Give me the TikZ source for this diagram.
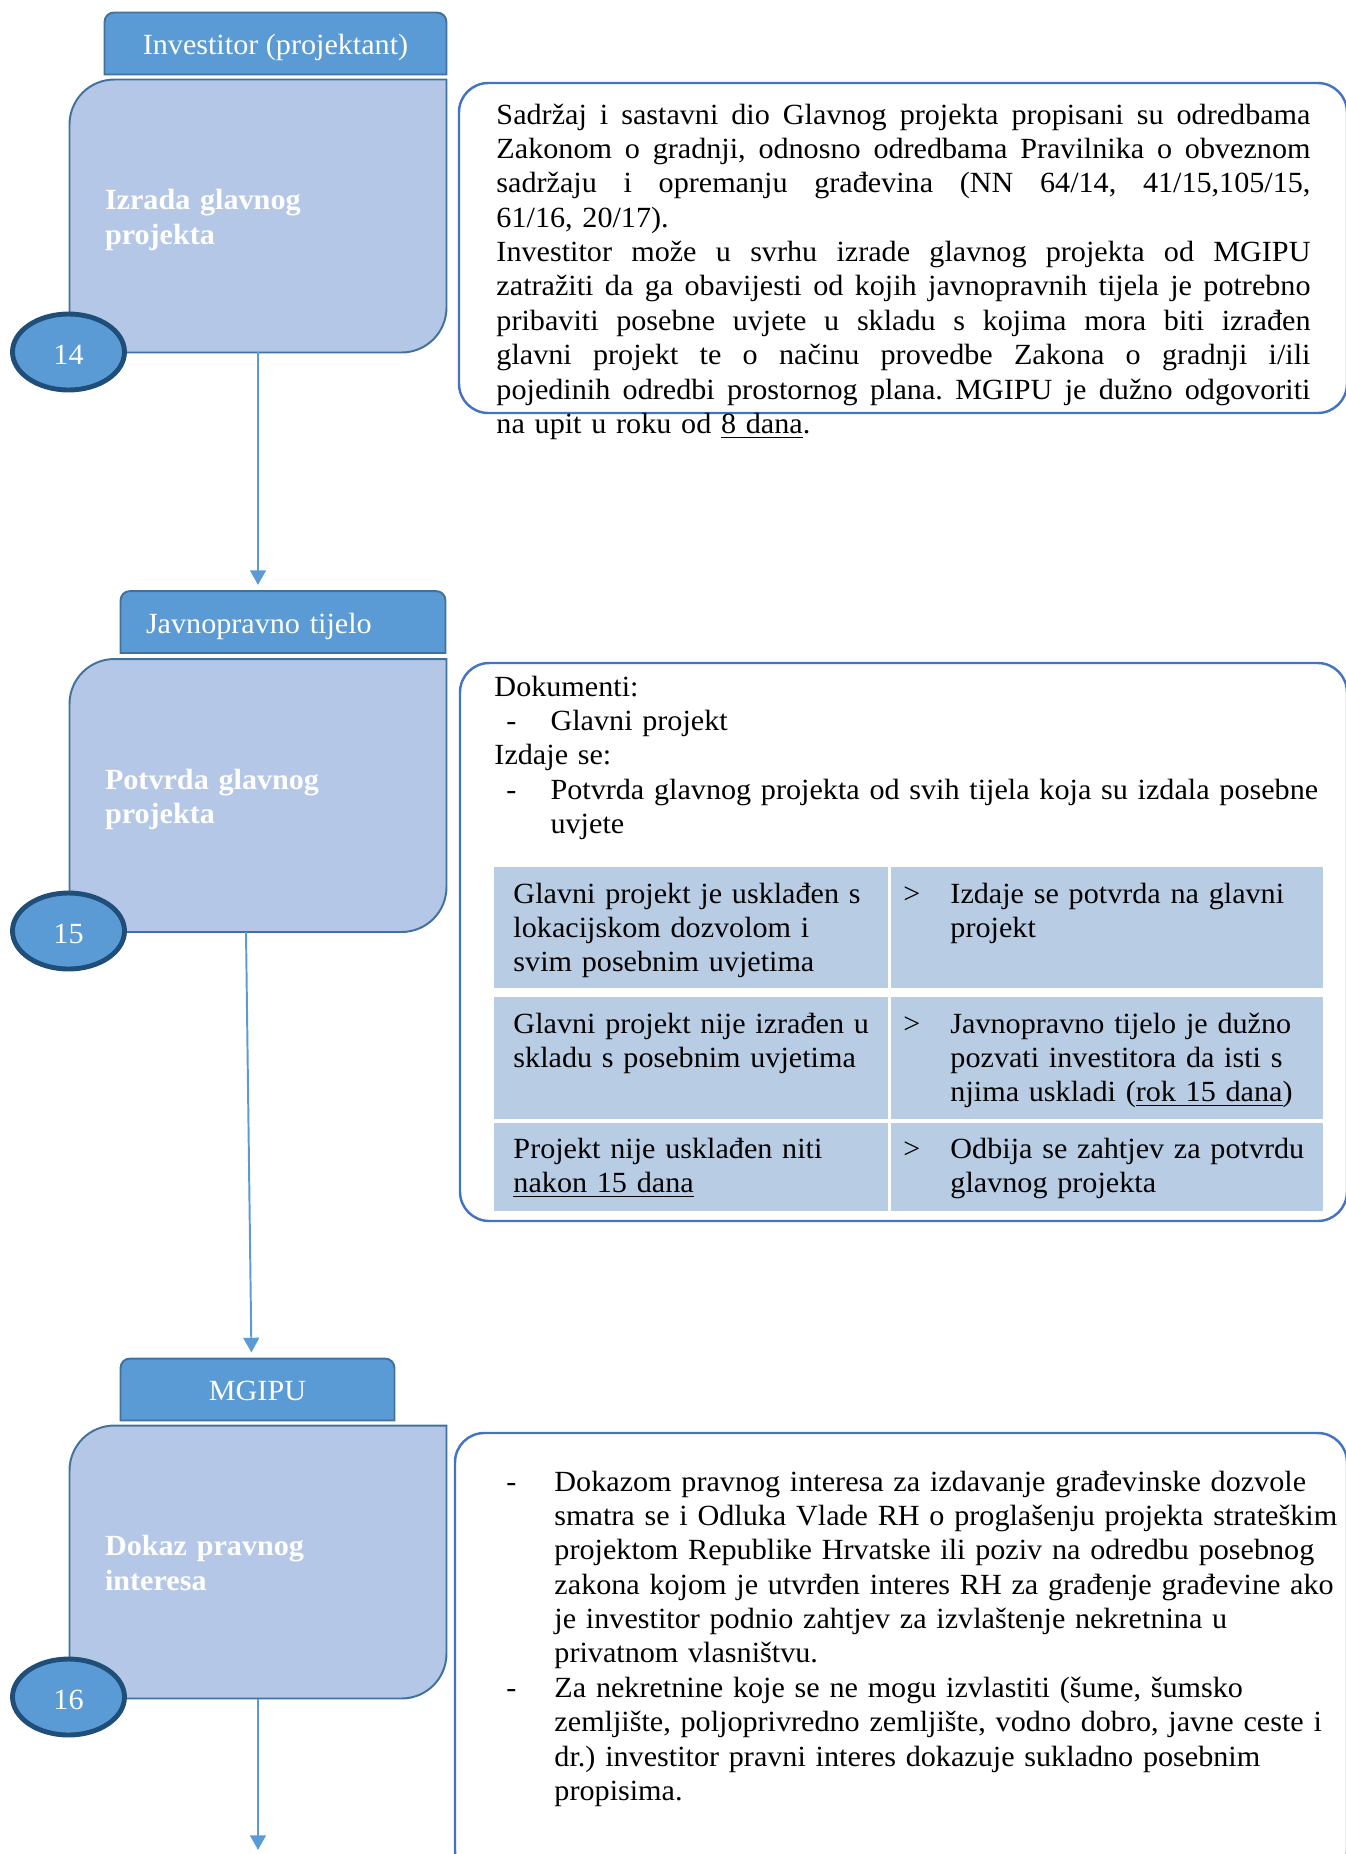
\documentclass[tikz,border=0pt]{standalone}
\usepackage{fontspec}
\setmainfont{Liberation Serif}[FakeStretch=1.03]
\usepackage{tikz}
\usetikzlibrary{calc}
\usetikzlibrary{shapes.geometric}
\usetikzlibrary{arrows.meta}
\usetikzlibrary{backgrounds}
\frenchspacing

\definecolor{headfill}{HTML}{5B9BD5}
\definecolor{headline}{HTML}{41719C}
\definecolor{stepfill}{HTML}{B4C7E7}
\definecolor{ovalline}{HTML}{1F4E79}
\definecolor{infoline}{HTML}{4472C4}
\definecolor{cellfill}{HTML}{B8CCE4}

\newcommand{\px}{0.41pt}
\newcommand{\jline}[1]{\makebox[\linewidth][s]{\spaceskip=0pt\xspaceskip=0pt #1}}
\newcommand{\crtica}[1]{\makebox[#1][l]{\hspace{4.9pt}-}}
\newcommand{\strelica}{\llap{\makebox[19.3pt][l]{>}}}

\tikzset{
  every node/.style={font=\fontsize{12}{14.1}\selectfont, inner sep=0pt},
  headbox/.style={text=white, minimum height=61*\px, text height=11pt, text depth=1.6pt},
  stepbox/.style={minimum width=376*\px, minimum height=272*\px, text width=306*\px,
    inner xsep=35*\px, align=left, text=white, font=\fontsize{12}{14.1}\selectfont\bfseries,
    text height=8pt, text depth=13pt},
  oval/.style={ellipse, fill=headfill, draw=ovalline, line width=2pt, text=white,
    minimum width=112*\px, minimum height=76*\px, text height=10.6pt, text depth=0pt},
  infobox/.style={draw=infoline, line width=1pt, rounded corners=12pt},
  infotext/.style={anchor=base west},
  cell/.style={anchor=north west, fill=cellfill},
  flow/.style={draw=headfill, line width=0.8pt, -{Triangle[width=6.5pt,length=6pt]}, shorten >=2.5pt},
}

\begin{document}
\begin{tikzpicture}[x=\px, y=-\px]
    \useasboundingbox (0,0) rectangle (1346,1854);

    % korak 14
    \node[headbox, minimum width=341*\px] at (275.5,43.5) (t14) {Investitor (projektant)};
    \node[stepbox] at (258,216) (b14) {Izrada glavnog\\projekta};
    \node[oval] at (68.5,352) (e14) {14};
    \node[infobox, minimum width=888*\px, minimum height=330*\px] at (903,248) (r14) {};
    \node[infotext, text width=814*\px] at (496,124) (r14txt) {%
      \jline{Sadržaj i sastavni dio Glavnog projekta propisani su odredbama}\\
      \jline{Zakonom o gradnji, odnosno odredbama Pravilnika o obveznom}\\
      \jline{sadržaju i opremanju građevina (NN 64/14, 41/15,105/15,}\\
      61/16, 20/17).\\
      \jline{Investitor može u svrhu izrade glavnog projekta od MGIPU}\\
      \jline{zatražiti da ga obavijesti od kojih javnopravnih tijela je potrebno}\\
      \jline{pribaviti posebne uvjete u skladu s kojima mora biti izrađen}\\
      \jline{glavni projekt te o načinu provedbe Zakona o gradnji i/ili}\\
      \jline{pojedinih odredbi prostornog plana. MGIPU je dužno odgovoriti}\\
      na upit u roku od \underline{8 dana}.};

    % korak 15
    \node[headbox, minimum width=324*\px, text width=274*\px, inner xsep=25*\px, align=left]
      at (283,622) (t15) {Javnopravno tijelo};
    \node[stepbox] at (258,795.5) (b15) {Potvrda glavnog\\projekta};
    \node[oval] at (68.5,931) (e15) {15};
    \node[infobox, minimum width=887*\px, minimum height=558*\px] at (903.5,942) (r15) {};
    \node[infotext, text width=860*\px] at (494,696) (r15txt) {%
      Dokumenti:\\
      \crtica{23pt}Glavni projekt\\
      Izdaje se:\\
      \crtica{23pt}Potvrda glavnog projekta od svih tijela koja su izdala posebne\\
      \hspace*{23pt}uvjete};

    \node[cell, minimum width=394*\px, minimum height=121*\px] at (494,866) (c11) {};
    \node[cell, minimum width=432*\px, minimum height=121*\px] at (891,866) (c12) {};
    \node[cell, minimum width=394*\px, minimum height=122*\px] at (494,996) (c21) {};
    \node[cell, minimum width=432*\px, minimum height=122*\px] at (891,996) (c22) {};
    \node[cell, minimum width=394*\px, minimum height=88*\px] at (494,1122) (c31) {};
    \node[cell, minimum width=432*\px, minimum height=88*\px] at (891,1122) (c32) {};

    \node[infotext, text width=370*\px] at (513,903) (c11txt)
      {Glavni projekt je usklađen s\\lokacijskom dozvolom i\\svim posebnim uvjetima};
    \node[infotext, text width=370*\px] at (950,903) (c12txt)
      {\strelica Izdaje se potvrda na glavni\\projekt};
    \node[infotext, text width=370*\px] at (513,1033) (c21txt)
      {Glavni projekt nije izrađen u\\skladu s posebnim uvjetima};
    \node[infotext, text width=370*\px] at (950,1033) (c22txt)
      {\strelica Javnopravno tijelo je dužno\\pozvati investitora da isti s\\njima uskladi (\underline{rok 15 dana})};
    \node[infotext, text width=370*\px] at (513,1158) (c31txt)
      {Projekt nije usklađen niti\\\underline{nakon 15 dana}};
    \node[infotext, text width=370*\px] at (950,1158) (c32txt)
      {\strelica Odbija se zahtjev za potvrdu\\glavnog projekta};

    % korak 16
    \node[headbox, minimum width=273*\px] at (257.5,1389.5) (t16) {MGIPU};
    \node[stepbox] at (258,1562) (b16) {Dokaz pravnog\\interesa};
    \node[oval] at (68.5,1697) (e16) {16};
    \node[infobox, minimum width=892*\px, minimum height=447*\px] at (901,1656.5) (r16) {};
    \node[infotext, text width=860*\px] at (494,1491) (r16txt) {%
      \crtica{24.6pt}Dokazom pravnog interesa za izdavanje građevinske dozvole\\
      \hspace*{24.6pt}smatra se i Odluka Vlade RH o proglašenju projekta strateškim\\
      \hspace*{24.6pt}projektom Republike Hrvatske ili poziv na odredbu posebnog\\
      \hspace*{24.6pt}zakona kojom je utvrđen interes RH za građenje građevine ako\\
      \hspace*{24.6pt}je investitor podnio zahtjev za izvlaštenje nekretnina u\\
      \hspace*{24.6pt}privatnom vlasništvu.\\
      \crtica{24.6pt}Za nekretnine koje se ne mogu izvlastiti (šume, šumsko\\
      \hspace*{24.6pt}zemljište, poljoprivredno zemljište, vodno dobro, javne ceste i\\
      \hspace*{24.6pt}dr.) investitor pravni interes dokazuje sukladno posebnim\\
      \hspace*{24.6pt}propisima.};

    \begin{scope}[on background layer]
      \foreach \t in {t14,t15,t16}
        \filldraw[fill=headfill, draw=headline, line width=0.8pt] (\t.south west)
          -- ($(\t.north west)+(0,10)$) .. controls ($(\t.north west)+(0,4)$) and ($(\t.north west)+(4,0)$) .. ($(\t.north west)+(10,0)$)
          -- ($(\t.north east)+(-10,0)$) .. controls ($(\t.north east)+(-4,0)$) and ($(\t.north east)+(0,4)$) .. ($(\t.north east)+(0,10)$)
          -- (\t.south east) -- cycle;
      \foreach \b in {b14,b15,b16}
        \filldraw[fill=stepfill, draw=headline, line width=0.8pt] (\b.south west)
          -- ($(\b.north west)+(0,45)$) .. controls ($(\b.north west)+(0,20)$) and ($(\b.north west)+(20,0)$) .. ($(\b.north west)+(45,0)$)
          -- (\b.north east)
          -- ($(\b.south east)+(0,-45)$) .. controls ($(\b.south east)+(0,-20)$) and ($(\b.south east)+(-20,0)$) .. ($(\b.south east)+(-45,0)$)
          -- cycle;
    \end{scope}

    \coordinate (dalje) at (258,1856);
    \draw[flow] (b14.south) -- (b14.south |- t15.north);
    \draw[flow] ($(b15.south)+(-12,0)$) -- ($(t16.north west)+(131,0)$);
    \draw[flow] (b16.south) -- (dalje);

\end{tikzpicture}
\end{document}
